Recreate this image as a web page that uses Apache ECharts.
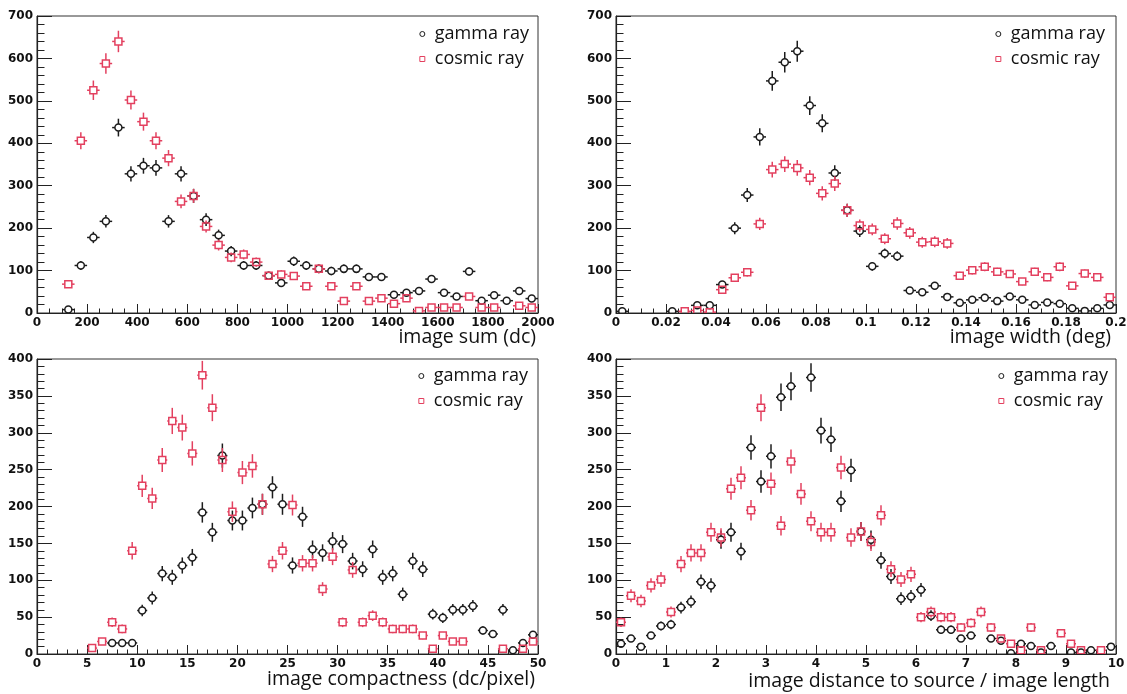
<!DOCTYPE html>
<html>
<head>
<meta charset="utf-8">
<script src="https://cdn.jsdelivr.net/npm/echarts@6/dist/echarts.min.js"></script>
<style>
  html, body { margin: 0; padding: 0; background: #fff; }
  #chart { width: 1127px; height: 694px; }
</style>
</head>
<body>
<div id="chart"></div>
<script>
// ---- histogram bin centres ----
const sumBins = [25,75,125,175,225,275,325,375,425,475,525,575,625,675,725,775,825,875,925,975,
  1025,1075,1125,1175,1225,1275,1325,1375,1425,1475,1525,1575,1625,1675,1725,1775,1825,1875,1925,1975];
const widthBins = [0.0025,0.0075,0.0125,0.0175,0.0225,0.0275,0.0325,0.0375,0.0425,0.0475,
  0.0525,0.0575,0.0625,0.0675,0.0725,0.0775,0.0825,0.0875,0.0925,0.0975,
  0.1025,0.1075,0.1125,0.1175,0.1225,0.1275,0.1325,0.1375,0.1425,0.1475,
  0.1525,0.1575,0.1625,0.1675,0.1725,0.1775,0.1825,0.1875,0.1925,0.1975];
const compBins = [0.5,1.5,2.5,3.5,4.5,5.5,6.5,7.5,8.5,9.5,10.5,11.5,12.5,13.5,14.5,15.5,16.5,17.5,18.5,19.5,
  20.5,21.5,22.5,23.5,24.5,25.5,26.5,27.5,28.5,29.5,30.5,31.5,32.5,33.5,34.5,35.5,36.5,37.5,38.5,39.5,
  40.5,41.5,42.5,43.5,44.5,45.5,46.5,47.5,48.5,49.5];
const distBins = [0.1,0.3,0.5,0.7,0.9,1.1,1.3,1.5,1.7,1.9,2.1,2.3,2.5,2.7,2.9,3.1,3.3,3.5,3.7,3.9,
  4.1,4.3,4.5,4.7,4.9,5.1,5.3,5.5,5.7,5.9,6.1,6.3,6.5,6.7,6.9,7.1,7.3,7.5,7.7,7.9,
  8.1,8.3,8.5,8.7,8.9,9.1,9.3,9.5,9.7,9.9];

// half bin widths (horizontal error bars)
const sumHalfBin = 25;
const widthHalfBin = 0.0025;
const compHalfBin = 0.5;
const distHalfBin = 0.1;

// ---- event counts per bin ----
const sumGamma = [null,null,8,112,178,216,437,328,347,342,216,328,276,220,183,146,112,112,88,71,
  122,112,104,99,104,104,85,85,43,48,52,80,48,39,98,29,42,29,52,34];
const sumCosmic = [null,null,68,406,525,588,640,502,451,406,365,263,276,204,160,131,138,120,88,91,
  87,63,104,63,28,63,28,35,22,35,5,13,13,13,39,13,13,null,17,13];

const widthGamma = [4,null,null,null,4,null,18,18,67,200,278,415,547,591,617,489,447,330,242,193,
  110,140,134,53,49,64,38,24,31,36,28,39,31,19,25,22,11,5,11,19];
const widthCosmic = [null,null,null,null,null,4,6,2,55,83,96,210,338,351,342,319,282,305,242,206,
  197,175,211,189,167,168,164,88,101,109,97,92,74,97,84,109,64,93,84,37];

const compGamma = [null,null,null,null,null,null,null,15,15,15,59,76,109,104,120,131,192,165,269,181,
  181,198,203,226,203,120,186,142,137,153,149,126,115,142,104,109,81,126,115,54,
  49,60,60,65,32,27,60,5,15,26];
const compCosmic = [null,null,null,null,null,8,17,43,34,140,228,211,263,316,307,272,378,334,263,193,
  246,255,203,122,140,202,123,123,88,132,43,114,43,52,43,34,34,34,25,7,
  25,17,17,null,null,null,7,null,7,17];

const distGamma = [14,21,10,25,38,40,63,71,98,93,155,165,139,280,234,268,348,363,null,375,
  303,291,207,249,166,155,127,105,75,78,87,52,33,33,21,25,null,21,18,1,
  14,11,2,11,null,2,2,5,null,10];
const distCosmic = [43,79,72,93,101,57,122,137,137,165,158,224,239,195,334,231,174,261,217,180,
  165,165,253,158,166,152,188,115,101,108,50,57,50,50,36,42,57,36,21,14,
  5,36,5,null,28,14,5,null,5,null];

// ---- axis ticks and titles ----
const sumTicks = { min: 0, max: 2000, interval: 200 };
const widthTicks = { min: 0, max: 0.2, interval: 0.02 };
const compTicks = { min: 0, max: 50, interval: 5 };
const distTicks = { min: 0, max: 10, interval: 1 };
const countTicksTop = { min: 0, max: 700, interval: 100 };
const countTicksBottom = { min: 0, max: 400, interval: 50 };

const xTitles = ['image sum (dc)', 'image width (deg)', 'image compactness (dc/pixel)',
  'image distance to source / image length'];
const seriesNames = ['gamma ray', 'cosmic ray'];

const GAMMA_COLOR = '#1c1c1c';
const COSMIC_COLOR = '#e3405f';

// points with Poisson vertical errors and half-bin horizontal errors
function toPoints(bins, counts, halfBin) {
  const out = [];
  counts.forEach((n, i) => {
    if (n === null) return;
    out.push([bins[i], n, halfBin, Math.sqrt(n)]);
  });
  return out;
}

function makeRenderer(shape, color) {
  const R = 3.5;
  return function (params, api) {
    const x = api.value(0), y = api.value(1), hw = api.value(2), e = api.value(3);
    const c = api.coord([x, y]);
    const l = api.coord([x - hw, y]);
    const r = api.coord([x + hw, y]);
    const t = api.coord([x, y + e]);
    const b = api.coord([x, y - e]);
    const lineStyle = { stroke: color, lineWidth: 1.5 };
    const children = [];
    if (c[0] - l[0] > R) children.push({ type: 'line', shape: { x1: l[0], y1: c[1], x2: c[0] - R, y2: c[1] }, style: lineStyle });
    if (r[0] - c[0] > R) children.push({ type: 'line', shape: { x1: c[0] + R, y1: c[1], x2: r[0], y2: c[1] }, style: lineStyle });
    if (c[1] - t[1] > R) children.push({ type: 'line', shape: { x1: c[0], y1: t[1], x2: c[0], y2: c[1] - R }, style: lineStyle });
    if (b[1] - c[1] > R) children.push({ type: 'line', shape: { x1: c[0], y1: c[1] + R, x2: c[0], y2: b[1] }, style: lineStyle });
    if (shape === 'circle') {
      children.push({ type: 'circle', shape: { cx: c[0], cy: c[1], r: R }, style: { fill: 'rgba(255,255,255,0)', stroke: color, lineWidth: 1.5 } });
    } else {
      children.push({ type: 'rect', shape: { x: c[0] - R, y: c[1] - R, width: 2 * R, height: 2 * R }, style: { fill: 'rgba(255,255,255,0)', stroke: color, lineWidth: 1.5 } });
    }
    return { type: 'group', children };
  };
}

const panels = [
  { bins: sumBins, half: sumHalfBin, gamma: sumGamma, cosmic: sumCosmic, xt: sumTicks, yt: countTicksTop, minor: 4,
    grid: { left: 37, top: 16, width: 501, height: 297 }, title: [536, 337], legendRight: 593, legendTop: 20 },
  { bins: widthBins, half: widthHalfBin, gamma: widthGamma, cosmic: widthCosmic, xt: widthTicks, yt: countTicksTop, minor: 4,
    grid: { left: 616, top: 16, width: 500, height: 297 }, title: [1111, 337], legendRight: 17, legendTop: 20 },
  { bins: compBins, half: compHalfBin, gamma: compGamma, cosmic: compCosmic, xt: compTicks, yt: countTicksBottom, minor: 5,
    grid: { left: 37, top: 359, width: 501, height: 295 }, title: [535, 679], legendRight: 594, legendTop: 362 },
  { bins: distBins, half: distHalfBin, gamma: distGamma, cosmic: distCosmic, xt: distTicks, yt: countTicksBottom, minor: 5,
    grid: { left: 616, top: 359, width: 500, height: 295 }, title: [1110, 681], legendRight: 14, legendTop: 362 }
];

const labelStyle = { fontFamily: 'DejaVu Sans', fontWeight: 'bold', fontSize: 12, color: '#111' };
const axisLine = { show: true, lineStyle: { color: '#222', width: 1.2 } };

const option = {
  backgroundColor: '#fff',
  animation: false,
  grid: panels.map(p => Object.assign({
    show: true, borderColor: '#333', borderWidth: 1, containLabel: false, outerBoundsMode: 'none'
  }, p.grid)),
  xAxis: panels.map((p, i) => ({
    type: 'value', gridIndex: i, min: p.xt.min, max: p.xt.max, interval: p.xt.interval,
    axisLine,
    axisTick: { show: true, inside: true, length: 9, lineStyle: { color: '#222', width: 1 } },
    minorTick: { show: true, splitNumber: p.minor, length: 4.5, lineStyle: { color: '#222', width: 1 } },
    splitLine: { show: false },
    axisLabel: Object.assign({ margin: 4, formatter: v => String(+v.toFixed(3)) }, labelStyle)
  })),
  yAxis: panels.map((p, i) => ({
    type: 'value', gridIndex: i, min: p.yt.min, max: p.yt.max, interval: p.yt.interval,
    axisLine,
    axisTick: { show: true, inside: true, length: 15, lineStyle: { color: '#222', width: 1 } },
    minorTick: { show: true, splitNumber: 5, length: 7.5, lineStyle: { color: '#222', width: 1 } },
    splitLine: { show: false },
    axisLabel: Object.assign({ margin: 4 }, labelStyle)
  })),
  legend: panels.map(p => ({
    orient: 'vertical', right: p.legendRight, top: p.legendTop, align: 'left',
    itemWidth: 5, itemHeight: 5, itemGap: 7, selectedMode: false,
    textStyle: { fontFamily: 'Open Sans', fontSize: 18, color: '#111', padding: [0, 0, 0, 5] },
    data: [
      { name: seriesNames[0], icon: 'circle', itemStyle: { color: 'rgba(255,255,255,0)', borderColor: GAMMA_COLOR, borderWidth: 1 } },
      { name: seriesNames[1], icon: 'rect', itemStyle: { color: 'rgba(255,255,255,0)', borderColor: COSMIC_COLOR, borderWidth: 1 } }
    ]
  })),
  // axis titles sit right-aligned below each x axis
  graphic: panels.map((p, i) => ({
    type: 'text', x: p.title[0], y: p.title[1], silent: true,
    style: { text: xTitles[i], align: 'right', verticalAlign: 'middle', font: '19.5px "Open Sans"', fill: '#111' }
  })),
  series: []
};

panels.forEach((p, i) => {
  option.series.push({
    type: 'custom', name: seriesNames[0], xAxisIndex: i, yAxisIndex: i, clip: true,
    itemStyle: { color: GAMMA_COLOR },
    renderItem: makeRenderer('circle', GAMMA_COLOR),
    encode: { x: 0, y: 1 },
    data: toPoints(p.bins, p.gamma, p.half)
  });
  option.series.push({
    type: 'custom', name: seriesNames[1], xAxisIndex: i, yAxisIndex: i, clip: true,
    itemStyle: { color: COSMIC_COLOR },
    renderItem: makeRenderer('square', COSMIC_COLOR),
    encode: { x: 0, y: 1 },
    data: toPoints(p.bins, p.cosmic, p.half)
  });
});

const chart = echarts.init(document.getElementById('chart'), null, { renderer: 'canvas' });
chart.setOption(option);
</script>
</body>
</html>
